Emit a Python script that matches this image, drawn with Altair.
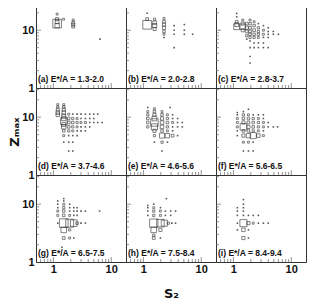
import altair as alt
import pandas as pd

letters = ["a", "b", "c", "d", "e", "f", "g", "h", "i"]
energy = ["1.3-2.0", "2.0-2.8", "2.8-3.7", "3.7-4.6", "4.6-5.6",
          "5.6-6.5", "6.5-7.5", "7.5-8.4", "8.4-9.4"]

# (S2, Zmax, counts)
cells_a = [(1.16, 19, 3), (1.16, 15.5, 8), (1.16, 14, 12), (1.16, 13, 60), (1.16, 12, 15),
           (1.5, 15.5, 3), (2.2, 15, 3), (2.2, 13.5, 6), (2.2, 12.5, 8), (2.2, 11.5, 6),
           (6.4, 7, 1)]
cells_b = [(1.16, 19.6, 2), (1.16, 15.6, 6), (1.16, 12.4, 60), (1.56, 15.5, 4), (1.56, 13.5, 10),
           (1.56, 12, 14), (1.56, 10.5, 8), (2.27, 16, 3), (2.27, 14, 6), (2.27, 12.5, 8),
           (2.27, 11, 8), (2.27, 9.5, 5), (2.27, 8.5, 3), (2.27, 7.5, 2), (3.4, 12, 2),
           (3.4, 10, 2), (3.4, 8.5, 1), (5.1, 12.5, 1), (5.1, 10, 1), (5.1, 8.5, 1),
           (7.1, 8.5, 1), (3.4, 5, 1)]
cells_c = [(1.14, 19.5, 1), (1.14, 17, 2), (1.14, 14, 6), (1.14, 12.5, 12), (1.14, 11.5, 28),
           (1.45, 15, 3), (1.45, 13, 8), (1.45, 11.5, 25), (1.45, 10, 8),
           (1.7, 13, 6), (1.7, 11, 8), (1.7, 9.5, 6), (1.7, 8, 4), (1.7, 7, 2),
           (1.94, 15, 3), (1.94, 13, 5), (1.94, 11, 6), (1.94, 9.5, 6), (1.94, 8.5, 5),
           (1.94, 7.5, 4), (1.94, 6.5, 2), (1.94, 5, 1), (1.94, 3.5, 1), (1.94, 2.7, 1),
           (2.28, 14, 3), (2.28, 12, 5), (2.28, 10, 6), (2.28, 8.5, 5), (2.28, 7.5, 4),
           (2.28, 6, 2), (2.28, 5, 1), (2.7, 13, 2), (2.7, 11, 4), (2.7, 9.5, 4),
           (2.7, 8.5, 4), (2.7, 7.5, 3), (2.7, 6, 2), (2.7, 5, 1), (3.3, 12, 2),
           (3.3, 10, 3), (3.3, 8.5, 3), (3.3, 7.5, 2), (3.3, 6, 1), (3.3, 5, 1),
           (4.0, 11, 1), (4.0, 9.5, 2), (4.0, 8.5, 2), (4.0, 7.5, 1), (4.0, 5, 1),
           (4.9, 9.5, 1), (4.9, 8.5, 1), (6.0, 8.5, 1)]
cells_d = [(1.19, 16.5, 3), (1.19, 15, 4), (1.19, 13.5, 7), (1.19, 12, 10), (1.19, 11, 10),
           (1.51, 16.5, 3), (1.51, 15, 5), (1.51, 13.5, 8), (1.51, 12, 10), (1.51, 10.5, 12),
           (1.51, 9.5, 15), (1.51, 8.5, 35), (1.51, 7.5, 12), (1.51, 6.8, 15), (1.51, 5.8, 5),
           (1.51, 4.8, 3), (1.51, 3.7, 1),
           (1.84, 11.3, 3), (2.16, 11.3, 2), (2.57, 11.3, 2), (3.0, 11.3, 1), (3.57, 11.3, 1),
           (4.25, 11.3, 1), (4.98, 11.3, 1), (5.83, 11.3, 1),
           (1.84, 9.5, 5), (2.16, 9.5, 4), (2.57, 9.5, 3), (3.0, 9.5, 2), (3.57, 9.5, 2),
           (4.25, 9.5, 1), (4.98, 9.5, 1),
           (1.84, 8.1, 6), (2.16, 8.1, 5), (2.57, 8.1, 4), (3.0, 8.1, 3), (3.57, 8.1, 3),
           (4.25, 8.1, 2), (4.98, 8.1, 2), (5.83, 8.1, 1), (6.95, 8.1, 1),
           (1.84, 6.8, 5), (2.16, 6.8, 4), (2.57, 6.8, 3), (3.0, 6.8, 2), (3.57, 6.8, 2),
           (4.25, 6.8, 1),
           (1.84, 5.8, 4), (2.16, 5.8, 3), (2.57, 5.8, 2), (3.0, 5.8, 1), (3.57, 5.8, 1),
           (1.84, 4.8, 2), (2.16, 4.8, 1), (2.57, 4.8, 1),
           (1.84, 3.7, 1), (2.16, 3.7, 1), (1.84, 2.6, 1), (2.16, 2.6, 1)]
cells_e = [(1.19, 14.7, 2), (1.19, 12.5, 3), (1.19, 11, 4), (1.19, 9.5, 5), (1.19, 8.1, 5),
           (1.19, 6.8, 4),
           (1.55, 14, 3), (1.55, 12.5, 5), (1.55, 11, 8), (1.55, 9.5, 18), (1.55, 8.1, 45),
           (1.55, 6.8, 30), (1.55, 5.8, 8), (1.55, 4.8, 4), (1.55, 3.7, 2),
           (2.1, 12.5, 3), (2.1, 11, 5), (2.1, 9.5, 8), (2.1, 8.1, 10), (2.1, 6.8, 10),
           (2.1, 5.8, 5), (2.1, 4.8, 20), (2.1, 3.7, 4), (2.1, 2.6, 2),
           (2.6, 11, 3), (2.6, 9.5, 4), (2.6, 8.1, 5), (2.6, 6.8, 4), (2.6, 5.8, 3),
           (2.6, 4.8, 15), (2.6, 3.7, 2),
           (3.2, 11, 2), (3.2, 9.5, 2), (3.2, 8.1, 3), (3.2, 6.8, 2), (3.2, 5.8, 1),
           (3.2, 4.8, 6),
           (3.9, 9.5, 1), (3.9, 8.1, 2), (3.9, 6.8, 1), (3.9, 4.8, 2),
           (4.7, 8.1, 1), (4.7, 6.8, 1), (2.9, 14.7, 1)]
cells_f = [(1.17, 12, 1), (1.17, 11, 2), (1.17, 9.5, 3), (1.17, 8.1, 3), (1.17, 6.8, 3),
           (1.17, 5.8, 2), (1.17, 4.8, 2),
           (1.49, 12.5, 2), (1.49, 11, 4), (1.49, 9.5, 5), (1.49, 8.1, 8), (1.49, 6.8, 35),
           (1.49, 5.8, 6), (1.49, 4.8, 8), (1.49, 3.7, 3), (1.49, 2.6, 2),
           (1.82, 13.7, 1), (1.82, 11, 3), (1.82, 9.5, 5), (1.82, 8.1, 6), (1.82, 6.8, 8),
           (1.82, 5.8, 5), (1.82, 4.8, 15), (1.82, 3.7, 3), (1.82, 2.6, 1),
           (2.2, 11, 2), (2.2, 9.5, 4), (2.2, 8.1, 5), (2.2, 6.8, 5), (2.2, 5.8, 4),
           (2.2, 4.8, 30), (2.2, 3.7, 2), (2.2, 2.6, 1),
           (2.7, 11, 2), (2.7, 9.5, 3), (2.7, 8.1, 4), (2.7, 6.8, 4), (2.7, 5.8, 3),
           (2.7, 4.8, 10),
           (3.3, 11, 1), (3.3, 9.5, 2), (3.3, 8.1, 3), (3.3, 6.8, 3), (3.3, 5.8, 2),
           (3.3, 4.8, 3), (4.0, 8.1, 1), (4.0, 6.8, 2), (4.9, 6.8, 1), (5.8, 6.8, 1)]
cells_g = [(1.19, 11.4, 1), (1.19, 10, 2), (1.19, 8.7, 2), (1.19, 7.6, 3), (1.19, 6.4, 3),
           (1.19, 4.7, 2),
           (1.51, 12.5, 1), (1.51, 11.4, 2), (1.51, 10, 3), (1.51, 8.7, 4), (1.51, 7.6, 5),
           (1.51, 6.4, 5), (1.51, 4.7, 60), (1.51, 3.6, 25), (1.51, 2.6, 6),
           (1.91, 10, 1), (1.91, 8.7, 2), (1.91, 7.6, 2), (1.91, 6.4, 3), (1.91, 4.7, 50),
           (1.91, 3.6, 4), (1.91, 2.6, 3),
           (2.25, 8.7, 1), (2.25, 7.6, 2), (2.25, 6.4, 2), (2.25, 4.7, 35), (2.25, 2.6, 1),
           (2.57, 8.7, 1), (2.57, 7.6, 1), (2.57, 6.4, 1), (2.57, 4.7, 5),
           (3.0, 7.6, 1), (3.0, 4.7, 2), (3.57, 7.6, 1), (3.57, 4.7, 1), (6.3, 7.6, 1),
           (1.4, 1.8, 1)]
cells_h = [(1.19, 9.5, 1), (1.19, 8.7, 2), (1.19, 7.6, 2), (1.19, 6.4, 2),
           (1.51, 10, 2), (1.51, 8.7, 3), (1.51, 7.6, 4), (1.51, 6.4, 4), (1.51, 4.7, 55),
           (1.51, 3.6, 25), (1.51, 2.9, 4), (1.51, 2.6, 6),
           (1.97, 8.7, 2), (1.97, 7.6, 3), (1.97, 6.4, 3), (1.97, 4.7, 45), (1.97, 3.6, 8),
           (1.97, 2.6, 2),
           (2.3, 4.7, 30), (2.4, 7.6, 2), (2.4, 6.4, 2), (2.7, 4.7, 4), (2.96, 7.6, 1),
           (2.96, 6.4, 1), (3.1, 4.7, 2), (3.6, 7.6, 1), (3.6, 4.7, 1), (2.5, 12.5, 1)]
cells_i = [(1.17, 8.7, 1), (1.17, 7.6, 1), (1.17, 6.4, 1), (1.17, 4.7, 2), (1.17, 3.6, 1),
           (1.49, 12, 1), (1.49, 10, 1), (1.49, 8.7, 2), (1.49, 7.6, 2), (1.49, 6.4, 2),
           (1.49, 4.7, 40), (1.49, 3.6, 10), (1.49, 2.6, 8),
           (1.82, 6.4, 1), (1.82, 4.7, 8), (1.82, 3.6, 2), (1.82, 2.6, 2),
           (2.2, 6.4, 1), (2.2, 4.7, 3), (2.7, 6.4, 1), (2.7, 4.7, 2), (3.3, 4.7, 1),
           (4.0, 4.7, 1)]
panels = [cells_a, cells_b, cells_c, cells_d, cells_e, cells_f, cells_g, cells_h, cells_i]

x_minor = [0.6, 0.7, 0.8, 0.9, 2, 3, 4, 5, 6, 7, 8, 9]
x_major = [1, 10]
y_minor = [2, 3, 4, 5, 6, 7, 8, 9, 20, 30]
y_major = [10]

W, H = 90, 87
xs = alt.Scale(type="log", domain=[0.5, 18], nice=False)
ys = alt.Scale(type="log", domain=[1, 32], nice=False)
INK = "#222"


def xchan(field, row, i):
    if row == 2:
        kw = dict(values=[1, 10], format="~g", ticks=False, domain=False, grid=False,
                  labelPadding=1, titlePadding=13)
        return alt.X(field, scale=xs, axis=alt.Axis(**kw),
                     title="S₂" if i == 7 else None)
    return alt.X(field, scale=xs, axis=None)


def ychan(field, col, i):
    if col == 0:
        kw = dict(values=[1, 10], format="~g", ticks=False, domain=False, grid=False,
                  labelPadding=2, titlePadding=0)
        return alt.Y(field, scale=ys, axis=alt.Axis(**kw),
                     title="Zₘₐₓ" if i == 3 else None)
    return alt.Y(field, scale=ys, axis=None)


charts = []
for i in range(9):
    row, col = divmod(i, 3)
    df = pd.DataFrame(panels[i], columns=["s2", "z", "w"])
    boxes = alt.Chart(df).transform_filter("datum.w > 2").mark_square(
        filled=False, color=INK, strokeWidth=0.8
    ).encode(
        x=xchan("s2:Q", row, i),
        y=ychan("z:Q", col, i),
        size=alt.Size("w:Q", scale=alt.Scale(domain=[0, 60], range=[0, 75]), legend=None),
    )
    dots = alt.Chart(df).transform_filter("datum.w <= 2").mark_square(
        filled=True, color="#444", size=2.5, opacity=0.9
    ).encode(
        x=xchan("s2:Q", row, i),
        y=ychan("z:Q", col, i),
    )
    xt_min = alt.Chart(pd.DataFrame({"v": x_minor})).mark_tick(
        orient="vertical", size=3, thickness=1, color="#666", yOffset=-1.5
    ).encode(x=xchan("v:Q", row, i), y=alt.value(H))
    xt_maj = alt.Chart(pd.DataFrame({"v": x_major})).mark_tick(
        orient="vertical", size=5, thickness=1, color="#666", yOffset=-2.5
    ).encode(x=xchan("v:Q", row, i), y=alt.value(H))
    yt_min = alt.Chart(pd.DataFrame({"v": y_minor})).mark_tick(
        orient="horizontal", size=3, thickness=1, color="#666", xOffset=1.5
    ).encode(y=ychan("v:Q", col, i), x=alt.value(0))
    yt_maj = alt.Chart(pd.DataFrame({"v": y_major})).mark_tick(
        orient="horizontal", size=5, thickness=1, color="#666", xOffset=2.5
    ).encode(y=ychan("v:Q", col, i), x=alt.value(0))
    label = alt.Chart(pd.DataFrame({"t": [f"({letters[i]}) E*/A = {energy[i]}"]})).mark_text(
        align="left", baseline="alphabetic", font="Liberation Sans", fontSize=8.5,
        fontWeight="bold", color="#111"
    ).encode(x=alt.value(2), y=alt.value(H - 6), text="t:N")
    charts.append(alt.layer(xt_min, xt_maj, yt_min, yt_maj, dots, boxes, label).properties(
        width=W, height=H))

chart = alt.concat(*charts, columns=3, spacing=0, bounds="flush").properties(
    padding={"left": 0, "top": -8, "right": 0, "bottom": 0}
).configure_view(
    stroke="#333", strokeWidth=1
).configure_axis(
    labelFont="Liberation Sans", labelFontWeight="bold", labelFontSize=11, labelColor="#111",
    titleFont="DejaVu Sans", titleFontWeight="bold", titleFontSize=13, titleColor="#111"
)

chart.save("out.html", embed_options={"renderer": "svg", "actions": False})
